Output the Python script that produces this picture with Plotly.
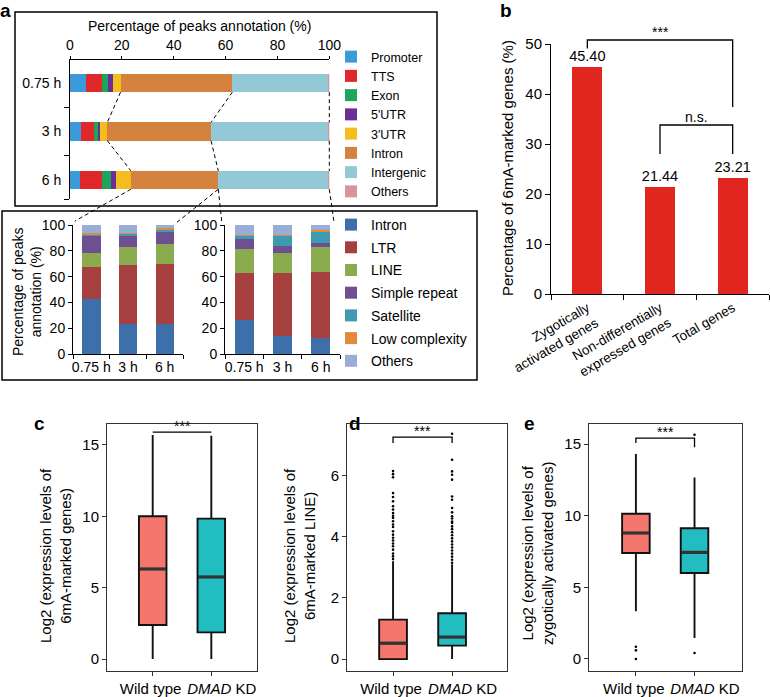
import plotly.graph_objects as go

W, H = 770, 697
FONT = "Liberation Sans, Arial, Helvetica, sans-serif"

# ---------------- Panel a (top): peak annotation ----------------
times = ["0.75 h", "3 h", "6 h"]
feat_names = ["Promoter", "TTS", "Exon", "5'UTR", "3'UTR", "Intron", "Intergenic", "Others"]
feat_colors = ["#3b9bd8", "#e0282a", "#1ea559", "#6a2f97", "#f3be1d", "#d5823f", "#93c8d6", "#d9949b"]
promoter = [6.2, 4.2, 3.9]
tts = [6.0, 5.1, 8.4]
exon = [2.6, 1.8, 3.5]
utr5 = [1.9, 0.6, 1.8]
utr3 = [2.8, 2.7, 5.9]
intron = [43.1, 40.0, 33.7]
intergenic = [37.0, 45.2, 42.4]
others = [0.4, 0.4, 0.4]
feat_values = [promoter, tts, exon, utr5, utr3, intron, intergenic, others]

# ---------------- Panel a (bottom): repeat annotation ----------------
rep_names = ["Intron", "LTR", "LINE", "Simple repeat", "Satellite", "Low complexity", "Others"]
rep_colors = ["#3f6fab", "#a6403f", "#8bab4f", "#6d4f92", "#3d9ab1", "#e28a3b", "#99aed7"]
repA_intron = [42.5, 23.5, 23.0]
repA_ltr = [25.0, 45.5, 47.0]
repA_line = [11.0, 13.7, 15.3]
repA_simple = [13.5, 8.8, 9.4]
repA_satellite = [0.8, 2.0, 1.8]
repA_lowcomp = [0.7, 0.4, 0.8]
repA_others = [6.5, 6.1, 2.7]
repB_intron = [26.4, 14.0, 12.7]
repB_ltr = [36.6, 48.5, 50.9]
repB_line = [18.4, 16.1, 19.1]
repB_simple = [7.5, 5.1, 3.6]
repB_satellite = [3.1, 8.3, 8.8]
repB_lowcomp = [0.5, 0.5, 1.0]
repB_others = [7.5, 7.5, 3.9]
repA = [repA_intron, repA_ltr, repA_line, repA_simple, repA_satellite, repA_lowcomp, repA_others]
repB = [repB_intron, repB_ltr, repB_line, repB_simple, repB_satellite, repB_lowcomp, repB_others]

# ---------------- Panel b ----------------
gene_sets = ["Zygotically<br>activated genes", "Non-differentially<br>expressed genes", "Total genes"]
pct_marked = [45.40, 21.44, 23.21]

# ---------------- Panels c, d, e (box stats) ----------------
groups = ["Wild type&nbsp;", "&nbsp;&nbsp;&nbsp;&nbsp;&nbsp;<i>DMAD</i> KD"]
box_colors = ["#f4766d", "#22bdc0"]
c_q1 = [2.38, 1.87]; c_med = [6.31, 5.75]; c_q3 = [10.0, 9.84]; c_lo = [0.0, 0.0]; c_hi = [15.7, 15.65]
d_q1 = [0.0, 0.44]; d_med = [0.52, 0.72]; d_q3 = [1.29, 1.50]; d_lo = [0.0, 0.0]; d_hi = [3.2, 3.1]
e_q1 = [7.4, 6.0]; e_med = [8.79, 7.44]; e_q3 = [10.14, 9.12]; e_lo = [3.33, 1.47]; e_hi = [14.3, 12.67]
c_out = [[], []]
d_out = [[6.15, 6.05, 5.95, 5.43, 5.3, 5.16, 5.0, 4.89, 4.78, 4.69, 4.62, 4.51, 4.4, 4.32, 4.18,
          4.07, 3.97, 3.88, 3.78, 3.69, 3.58, 3.45, 3.36, 3.27],
         [7.37, 6.52, 6.14, 6.03, 5.87, 5.32, 5.21, 4.94, 4.8, 4.67, 4.6, 4.5, 4.45, 4.34, 4.25,
          4.15, 4.05, 3.95, 3.85, 3.75, 3.65, 3.55, 3.45, 3.35, 3.25, 3.15]]
e_out = [[0.85, 0.6, 0.0], [0.42, 15.65]]

# ---------------- Axis geometry (pixel domains, ranges) ----------------
AX = {
    "1": dict(px=(70, 329.3), py=(60, 199), xr=(0, 100), yr=(2.39, -0.474)),
    "2": dict(px=(73, 183), py=(225, 354), xr=(-0.5, 2.5), yr=(0, 100)),
    "3": dict(px=(225, 340), py=(225, 354), xr=(-0.5, 2.5), yr=(0, 100)),
    "4": dict(px=(551, 769), py=(44, 294), xr=(-0.5, 2.5), yr=(0, 50)),
    "5": dict(px=(107, 257), py=(424, 671), xr=(-0.78, 1.78), yr=(-0.84, 16.47)),
    "6": dict(px=(347, 507), py=(424, 671), xr=(-0.78, 1.93), yr=(-0.39, 7.69)),
    "7": dict(px=(589, 742), py=(424, 671), xr=(-0.80, 1.81), yr=(-0.84, 16.4)),
}


def to_paper(ax, xv, yv):
    a = AX[ax]
    (x0, x1), (ytop, ybot) = a["px"], a["py"]
    (xr0, xr1), (yr0, yr1) = a["xr"], a["yr"]
    px = x0 + (xv - xr0) / (xr1 - xr0) * (x1 - x0)
    py = ybot - (yv - yr0) / (yr1 - yr0) * (ybot - ytop)
    return px / W, 1 - py / H


fig = go.Figure()

# top stacked horizontal bars
BAR_H = 0.377
for name, col, vals in zip(feat_names, feat_colors, feat_values):
    fig.add_trace(go.Bar(y=[0, 1, 2], x=vals, orientation="h", width=BAR_H, name=name,
                         marker=dict(color=col, line=dict(width=0)), xaxis="x", yaxis="y",
                         legend="legend"))

# repeat stacked bars
for k, (name, col) in enumerate(zip(rep_names, rep_colors)):
    fig.add_trace(go.Bar(x=[0, 1, 2], y=repA[k], width=0.5, name=name, legendgroup=name,
                         marker=dict(color=col, line=dict(width=0)), xaxis="x2", yaxis="y2",
                         legend="legend2", showlegend=True))
    fig.add_trace(go.Bar(x=[0, 1, 2], y=repB[k], width=0.5, name=name, legendgroup=name,
                         marker=dict(color=col, line=dict(width=0)), xaxis="x3", yaxis="y3",
                         legend="legend2", showlegend=False))

# panel b
fig.add_trace(go.Bar(x=[0, 1, 2], y=pct_marked, width=0.41, marker=dict(color="#e0261f", line=dict(width=0)),
                     text=[f"{v:.2f}" for v in pct_marked], textposition="outside",
                     constraintext="none", textfont=dict(size=14.5, color="black"), cliponaxis=False,
                     xaxis="x4", yaxis="y4", showlegend=False))

# box panels
BOX_W = 0.47
for ax, q1, med, q3, lo, hi, outs in [("5", c_q1, c_med, c_q3, c_lo, c_hi, c_out),
                                       ("6", d_q1, d_med, d_q3, d_lo, d_hi, d_out),
                                       ("7", e_q1, e_med, e_q3, e_lo, e_hi, e_out)]:
    for i in range(2):
        fig.add_trace(go.Box(x=[i], q1=[q1[i]], median=[med[i]], q3=[q3[i]],
                             lowerfence=[lo[i]], upperfence=[hi[i]], orientation="v",
                             width=BOX_W, whiskerwidth=0, fillcolor=box_colors[i],
                             line=dict(color="#111111", width=1.9), boxpoints=False,
                             xaxis="x" + ax, yaxis="y" + ax, showlegend=False, hoverinfo="skip"))
        fig.add_trace(go.Scatter(x=[i - BOX_W / 2 + 0.01, i + BOX_W / 2 - 0.01], y=[med[i], med[i]],
                                 mode="lines", line=dict(color="#333333", width=3.2),
                                 xaxis="x" + ax, yaxis="y" + ax, showlegend=False, hoverinfo="skip"))
        if outs[i]:
            fig.add_trace(go.Scatter(x=[i] * len(outs[i]), y=outs[i], mode="markers",
                                     marker=dict(color="black", size=2.6), cliponaxis=False,
                                     xaxis="x" + ax, yaxis="y" + ax, showlegend=False, hoverinfo="skip"))

layout = dict(
    width=W, height=H, margin=dict(l=0, r=0, t=0, b=0, pad=0, autoexpand=False),
    paper_bgcolor="white", plot_bgcolor="rgba(0,0,0,0)",
    font=dict(family=FONT, size=14, color="black"),
    barmode="stack", showlegend=True,
    legend=dict(x=331 / W, y=1 - 42 / H, xanchor="left", yanchor="top", font=dict(size=12.5),
                bgcolor="rgba(0,0,0,0)", traceorder="normal", itemclick=False, itemdoubleclick=False),
    legend2=dict(x=331 / W, y=1 - 209 / H, xanchor="left", yanchor="top", font=dict(size=14),
                 bgcolor="rgba(0,0,0,0)", traceorder="grouped", tracegroupgap=1.5,
                 itemclick=False, itemdoubleclick=False),
)


def dom(ax):
    a = AX[ax]
    return [a["px"][0] / W, a["px"][1] / W], [1 - a["py"][1] / H, 1 - a["py"][0] / H]


base = dict(showgrid=False, zeroline=False, showline=True, linecolor="black", linewidth=1,
            tickcolor="black", tickfont=dict(size=14), fixedrange=True, automargin=False)

for ax in AX:
    xd, yd = dom(ax)
    xk = "xaxis" if ax == "1" else "xaxis" + ax
    yk = "yaxis" if ax == "1" else "yaxis" + ax
    ya = "y" if ax == "1" else "y" + ax
    xa = "x" if ax == "1" else "x" + ax
    layout[xk] = dict(base, domain=xd, range=list(AX[ax]["xr"]), anchor=ya, tickangle=0)
    layout[yk] = dict(base, domain=yd, range=list(AX[ax]["yr"]), anchor=xa)

# axis 1 (top horizontal)
layout["xaxis"].update(side="top", tickvals=[0, 20, 40, 60, 80, 100], ticks="outside", ticklen=3)
layout["yaxis"].update(tickvals=[0, 1, 2], ticktext=times, ticks="", ticklabelstandoff=5,
                       minor=dict(tickvals=[0.5, 1.5, 2.39], ticks="outside", ticklen=5,
                                  tickcolor="black", showgrid=False))
# sub charts
for ax in ["2", "3"]:
    layout["xaxis" + ax].update(tickvals=[0, 1, 2], ticktext=times, ticks="",
                                minor=dict(tickvals=[-0.5, 0.5, 1.5, 2.5], ticks="outside", ticklen=4,
                                           tickcolor="black", showgrid=False))
    layout["yaxis" + ax].update(tickvals=[0, 20, 40, 60, 80, 100], ticks="outside", ticklen=4)
# panel b
layout["xaxis4"].update(tickvals=[0, 1, 2], ticktext=gene_sets, ticks="", tickangle=-30,
                        tickfont=dict(size=13.5),
                        minor=dict(tickvals=[-0.5, 0.5, 1.5, 2.5], ticks="outside", ticklen=5,
                                   tickcolor="black", showgrid=False))
layout["yaxis4"].update(tickvals=[0, 10, 20, 30, 40, 50], ticks="outside", ticklen=5,
                        tickfont=dict(size=15))
# box panels
for ax, tv in [("5", [0, 5, 10, 15]), ("6", [0, 2, 4, 6]), ("7", [0, 5, 10, 15])]:
    layout["xaxis" + ax].update(tickvals=[0, 1], ticktext=groups, ticks="outside", ticklen=4,
                                mirror=True, linecolor="#333333", tickcolor="#333333",
                                tickfont=dict(size=15))
    layout["yaxis" + ax].update(tickvals=tv, ticks="outside", ticklen=4, mirror=True,
                                linecolor="#333333", tickcolor="#333333", tickfont=dict(size=15))

shapes = []
# panel a frames
shapes.append(dict(type="rect", xref="paper", yref="paper", x0=15 / W, x1=437 / W,
                   y0=1 - 206 / H, y1=1 - 12 / H, line=dict(color="black", width=1.5)))
shapes.append(dict(type="rect", xref="paper", yref="paper", x0=2 / W, x1=477 / W,
                   y0=1 - 380 / H, y1=1 - 211 / H, line=dict(color="black", width=1.5)))

# connectors between top bars
cum_utr3 = [sum(v[i] for v in feat_values[:5]) for i in range(3)]
cum_intron = [sum(v[i] for v in feat_values[:6]) for i in range(3)]
cum_all = [sum(v[i] for v in feat_values) for i in range(3)]
dash = dict(color="black", width=1, dash="4px,3px")
for i in range(2):
    for cum in (cum_utr3, cum_intron, cum_all):
        xa, ya = to_paper("1", cum[i], i + BAR_H / 2)
        xb, yb = to_paper("1", cum[i + 1], i + 1 - BAR_H / 2)
        shapes.append(dict(type="line", xref="paper", yref="paper", x0=xa, y0=ya, x1=xb, y1=yb, line=dash))
# connectors from 6 h bar to the zoomed repeat charts
for cum, ax, xv, yv in [(cum_utr3[2], "2", -0.45, 103), (cum_intron[2], "2", 2.33, 102),
                        (cum_intron[2], "3", -0.58, 101), (cum_all[2], "3", 2.35, 101)]:
    xa, ya = to_paper("1", cum, 2 + BAR_H / 2)
    xb, yb = to_paper(ax, xv, yv)
    shapes.append(dict(type="line", xref="paper", yref="paper", x0=xa, y0=ya, x1=xb, y1=yb, line=dash))

annotations = []


def bracket(ax, x0, x1, top, l0, l1, lab, shift):
    pts = [to_paper(ax, x0, l0), to_paper(ax, x0, top), to_paper(ax, x1, top), to_paper(ax, x1, l1)]
    path = "M" + " L".join(f"{px},{py}" for px, py in pts)
    shapes.append(dict(type="path", xref="paper", yref="paper", path=path,
                       line=dict(color="black", width=1.3)))
    mx, my = to_paper(ax, (x0 + x1) / 2, top)
    annotations.append(dict(x=mx, y=my, xref="paper", yref="paper", text=lab, showarrow=False,
                            xanchor="center", yanchor="bottom", yshift=shift, font=dict(size=14)))


# significance brackets
b_brackets = [(0, 2, 50.8, 49.1, 37.4, "***"), (1, 2, 33.8, 28.0, 28.0, "n.s.")]
box_brackets = [("5", 15.9, 15.9, 15.9, "***"), ("6", 7.26, 7.07, 7.07, "***"), ("7", 15.42, 15.07, 14.77, "***")]
for x0, x1, top, l0, l1, lab in b_brackets:
    bracket("4", x0, x1, top, l0, l1, lab, -2)
for ax, top, l0, l1, lab in box_brackets:
    bracket(ax, 0, 1, top, l0, l1, lab, -4)


def ptext(text, px, py, size=14, angle=0, bold=False):
    annotations.append(dict(x=px / W, y=1 - py / H, xref="paper", yref="paper",
                            text=f"<b>{text}</b>" if bold else text, showarrow=False,
                            xanchor="center", yanchor="middle", textangle=angle, font=dict(size=size)))


# panel letters
for lab, px, py in [("a", 5, 10), ("b", 506, 11), ("c", 39, 424), ("d", 355, 424), ("e", 529, 424)]:
    ptext(lab, px, py, 19, bold=True)

# axis titles
ptext("Percentage of peaks annotation (%)", 200, 26, 14)
ptext("Percentage of peaks<br>annotation (%)", 27, 292, 14, -90)
ptext("Percentage of 6mA-marked genes (%)", 508, 168, 15, -90)
ptext("Log2 (expression levels of<br>6mA-marked genes)", 55, 556, 15, -90)
ptext("Log2 (expression levels of<br>6mA-marked LINE)", 299, 556, 15, -90)
ptext("Log2 (expression levels of<br>zygotically activated genes)", 537, 554, 15, -90)

layout["shapes"] = shapes
layout["annotations"] = annotations
fig.update_layout(**layout)

fig.write_html("out.html", config={"displayModeBar": False},
               post_script="document.body.style.margin='0px';document.body.style.padding='0px';")
